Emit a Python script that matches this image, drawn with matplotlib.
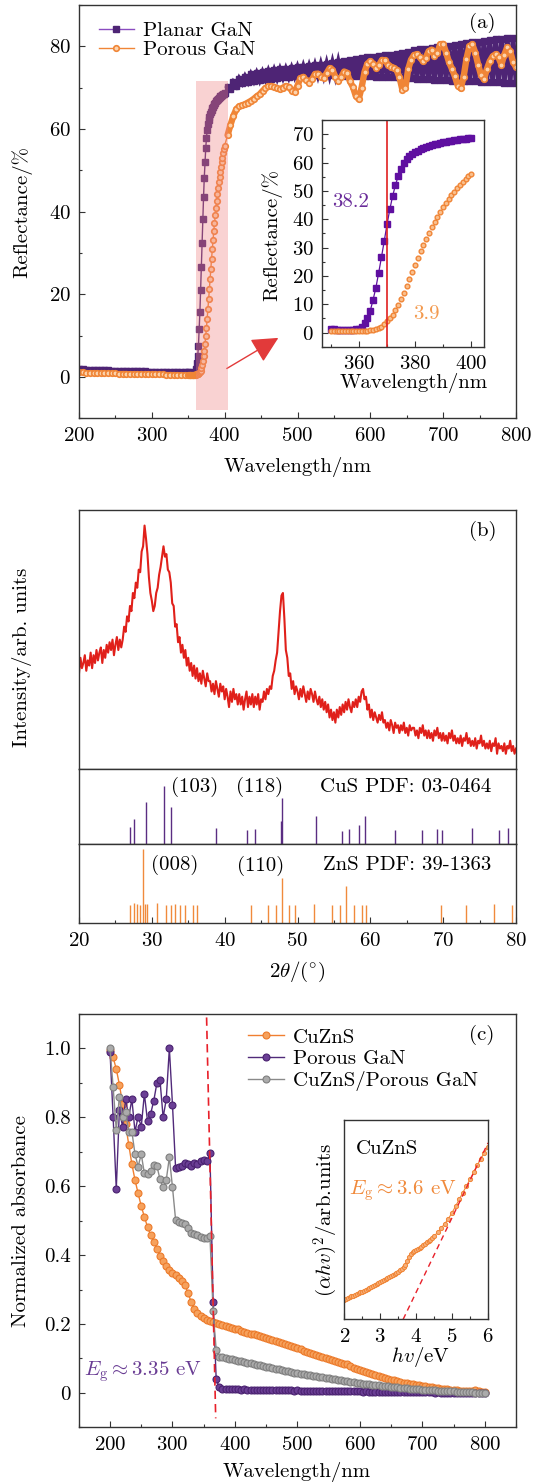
import numpy as np
import matplotlib.pyplot as plt
from matplotlib.ticker import MultipleLocator

plt.rcParams['font.family'] = ['cmr10', 'DejaVu Serif']
plt.rcParams['mathtext.fontset'] = 'cm'
plt.rcParams['axes.unicode_minus'] = False
plt.rcParams['axes.formatter.use_mathtext'] = True
plt.rcParams['font.size'] = 15

# ---------------- (a) reflectance ----------------
wl_low = np.arange(200, 350, 5)
planar_low = [1.9, 1.9, 1.8, 1.8, 1.8, 1.8, 1.7, 1.6, 1.6, 1.5,
              1.5, 1.5, 1.5, 1.5, 1.5, 1.5, 1.5, 1.5, 1.4, 1.3,
              1.3, 1.3, 1.3, 1.2, 1.2, 1.2, 1.2, 1.1, 1.1, 1.1]
porous_low = [1.1, 1.1, 1.0, 1.0, 1.0, 0.95, 0.9, 0.9, 0.9, 0.85,
              0.85, 0.8, 0.8, 0.8, 0.75, 0.75, 0.7, 0.7, 0.7, 0.65,
              0.65, 0.6, 0.6, 0.6, 0.55, 0.55, 0.55, 0.5, 0.5, 0.5]

wl_ins = np.arange(350, 401, 1)
planar_ins = [1.1, 1.1, 1.0, 1.0, 1.0, 1.0, 1.0, 1.0, 1.0, 1.1,
              1.2, 2.0, 3.3, 5.0, 7.6, 11.5, 15.7, 21.0, 26.5, 32.3,
              38.2, 43.5, 48.2, 52.0, 55.3, 57.8, 59.8, 61.2, 62.2, 63.0,
              63.6, 64.1, 64.6, 65.0, 65.4, 65.8, 66.1, 66.4, 66.7, 66.9,
              67.1, 67.3, 67.5, 67.7, 67.9, 68.0, 68.2, 68.3, 68.4, 68.5,
              68.6]
porous_ins = [0.5, 0.5, 0.5, 0.5, 0.5, 0.5, 0.5, 0.5, 0.5, 0.5,
              0.55, 0.6, 0.65, 0.7, 0.8, 0.9, 1.1, 1.5, 2.1, 2.9,
              3.9, 5.0, 6.3, 7.9, 9.8, 11.9, 14.1, 16.4, 18.8, 21.3,
              23.8, 26.2, 28.6, 30.9, 33.1, 35.2, 37.2, 39.1, 40.9, 42.6,
              44.2, 45.7, 47.1, 48.4, 49.7, 50.9, 52.0, 53.1, 54.1, 55.1,
              56.0]

wl_hi = np.arange(404, 801, 4)
planar_hi = [70.2, 69.6, 71.3, 70.4, 72.2, 71.1, 72.7, 71.4, 73.2, 71.7,
             73.5, 71.8, 73.7, 72.0, 74.0, 72.1, 74.2, 72.3, 74.4, 72.5,
             74.5, 72.6, 74.7, 72.8, 74.9, 72.8, 75.1, 72.9, 75.2, 73.0,
             75.4, 73.0, 75.6, 73.0, 75.8, 73.0, 76.0, 73.0, 76.2, 73.0,
             76.4, 72.9, 76.7, 72.9, 76.9, 72.8, 77.1, 72.8, 77.3, 72.8,
             77.5, 72.7, 77.7, 72.6, 77.9, 72.6, 78.0, 72.6, 78.2, 72.5,
             78.5, 72.4, 78.7, 72.3, 79.0, 72.1, 79.3, 72.1, 79.4, 72.0,
             79.7, 71.9, 79.9, 71.9, 80.0, 71.8, 80.2, 71.7, 80.4, 71.7,
             80.6, 71.7, 80.8, 71.5, 81.0, 71.5, 81.1, 71.4, 81.4, 71.4,
             81.5, 71.3, 81.7, 71.3, 81.8, 71.2, 82.0, 71.2, 82.1, 71.1]
porous_hi = [58.5, 61, 63.2, 64.8, 65.5, 65.7, 66, 66.4, 66.8, 67.3,
             67.9, 68.4, 69.2, 69.9, 70.3, 70.4, 70.2, 69.8, 69.6, 70,
             70.4, 70.2, 69.3, 69, 70.5, 72.3, 72.6, 71.8, 71.2, 72,
             73.3, 73.4, 72.7, 72.4, 73.5, 74.7, 74.3, 72.6, 71.6, 72.5,
             73.9, 73.6, 71.5, 70.2, 68, 67.2, 70, 73.8, 75.8, 76.4,
             75.8, 74.8, 75.5, 76.7, 76.6, 75.6, 75.1, 74.8, 74.3, 72.5,
             69.5, 69.8, 74.5, 76.8, 77.9, 78.1, 77.4, 76.4, 77.2, 78.8,
             79.2, 77.7, 78.5, 80.5, 80.6, 78.5, 76.2, 74.6, 72.8, 70.5,
             69.8, 72.5, 77, 80, 80.5, 78.5, 75.6, 73, 72, 74.5,
             76.4, 77.6, 78.1, 77.3, 75.6, 78, 79.8, 78.8, 76.2, 75]

wl_a = np.concatenate([wl_low, wl_ins, wl_hi])
planar_a = np.concatenate([planar_low, planar_ins, planar_hi])
porous_a = np.concatenate([porous_low, porous_ins, porous_hi])

# ---------------- (b) XRD ----------------
two_theta = np.round(np.arange(20, 80.01, 0.2), 1)
xrd = [37, 43, 39, 41, 44, 38, 42, 40, 45, 39,
       44, 41, 46, 42, 45, 47, 41, 46, 43, 48,
       45, 49, 46, 50, 44, 48, 51, 46, 50, 47,
       50, 55, 53, 59, 57, 63, 61, 68, 66, 72,
       70, 77, 76, 84, 86, 94, 89, 83, 74, 68,
       65, 61, 63, 68, 70, 75, 78, 82, 86, 82,
       83, 77, 76, 72, 64, 63, 55, 56, 49, 51,
       45, 48, 43, 46, 40, 43, 38, 41, 36, 40,
       35, 39, 34, 37, 33, 38, 35, 32, 37, 34,
       34, 30, 33, 29, 34, 31, 28, 33, 30, 32,
       27, 31, 28, 24, 30, 26, 31, 27, 29, 25,
       29, 25, 28, 23, 27, 30, 24, 28, 25, 29,
       24, 28, 25, 29, 23, 27, 26, 30, 27, 31,
       29, 32, 31, 36, 38, 42, 45, 53, 61, 67,
       68, 58, 46, 43, 36, 37, 31, 34, 29, 32,
       30, 27, 31, 28, 32, 29, 26, 30, 27, 31,
       29, 26, 30, 27, 25, 28, 24, 27, 23, 26,
       22, 25, 20, 23, 19, 22, 18, 23, 20, 24,
       21, 25, 22, 26, 23, 27, 24, 22, 26, 24,
       27, 24, 28, 26, 30, 31, 27, 28, 23, 25,
       20, 23, 19, 22, 20, 18, 21, 19, 22, 18,
       19, 16, 18, 15, 19, 17, 14, 18, 16, 17,
       14, 17, 15, 18, 14, 16, 13, 17, 15, 16,
       16, 13, 15, 12, 16, 14, 17, 13, 15, 12,
       15, 12, 14, 11, 15, 13, 16, 12, 14, 11,
       14, 11, 13, 10, 14, 12, 15, 11, 13, 10,
       12, 10, 13, 9, 12, 11, 14, 10, 12, 9,
       11, 9, 12, 8, 11, 10, 13, 9, 11, 8,
       10, 8, 11, 7, 10, 9, 12, 6, 10, 8,
       9, 7, 10, 6, 9, 8, 11, 7, 9, 6,
       8]
cus_pos = [27.0, 27.55, 29.2, 31.7, 32.7, 38.8, 43.0, 44.2, 47.7, 47.9, 52.6,
           56.1, 57.1, 58.5, 59.2, 63.4, 67.1, 69.2, 69.8, 73.9, 77.6, 78.9]
cus_int = [30, 44, 72, 100, 64, 27, 24, 26, 40, 80, 48,
           23, 26, 33, 48, 24, 24, 26, 24, 27, 24, 27]
zns_pos = [27.05, 27.5, 28.0, 28.4, 28.75, 29.06, 29.4, 30.67, 31.95, 32.6,
           33.2, 33.8, 34.5, 35.7, 36.15, 43.6, 46.0, 47.0, 47.87, 48.8,
           49.66, 52.2, 54.8, 55.8, 56.66, 57.76, 58.86, 59.4, 69.7, 73.2,
           77.0, 79.45]
zns_int = [25, 27, 26, 24, 100, 26, 26, 27, 24, 24,
           26, 24, 24, 24, 24, 24, 24, 24, 61, 24,
           24, 26, 24, 24, 50, 24, 24, 24, 24, 24,
           26, 24]

# ---------------- (c) absorbance ----------------
wl_c = np.arange(200, 801, 5)
cuzns = [0.995, 0.974, 0.94, 0.895, 0.84, 0.78, 0.72, 0.664, 0.618, 0.579,
         0.542, 0.511, 0.482, 0.458, 0.437, 0.418, 0.398, 0.382, 0.367, 0.356,
         0.348, 0.341, 0.333, 0.326, 0.312, 0.29, 0.263, 0.243, 0.232, 0.223,
         0.217, 0.212, 0.208, 0.205, 0.202, 0.2, 0.197, 0.194, 0.192, 0.189,
         0.186, 0.184, 0.181, 0.178, 0.175, 0.172, 0.17, 0.167, 0.164, 0.161,
         0.158, 0.155, 0.153, 0.15, 0.147, 0.144, 0.141, 0.138, 0.135, 0.132,
         0.129, 0.126, 0.122, 0.119, 0.116, 0.113, 0.11, 0.107, 0.104, 0.101,
         0.098, 0.095, 0.092, 0.089, 0.086, 0.085, 0.083, 0.077, 0.073, 0.07,
         0.067, 0.064, 0.06, 0.057, 0.054, 0.051, 0.048, 0.046, 0.043, 0.041,
         0.038, 0.036, 0.034, 0.032, 0.03, 0.028, 0.027, 0.025, 0.023, 0.022,
         0.02, 0.019, 0.017, 0.016, 0.014, 0.013, 0.012, 0.011, 0.01, 0.009,
         0.008, 0.007, 0.006, 0.006, 0.005, 0.005, 0.006, 0.007, 0.004, 0.003,
         0.002]
porous_gan = [0.99, 0.80, 0.592, 0.821, 0.773, 0.852, 0.802, 0.852, 0.758, 0.802,
              0.773, 0.868, 0.789, 0.81, 0.848, 0.899, 0.908, 0.80, 0.852, 1.0,
              0.836, 0.652, 0.655, 0.66, 0.668, 0.665, 0.66, 0.668, 0.664, 0.672,
              0.675, 0.672, 0.695, 0.264, 0.039, 0.016, 0.012, 0.011, 0.011, 0.01,
              0.01, 0.01, 0.009, 0.01, 0.009, 0.009, 0.009, 0.008, 0.009, 0.008,
              0.008, 0.008, 0.008, 0.007, 0.008, 0.007, 0.007, 0.007, 0.007, 0.006,
              0.007, 0.006, 0.006, 0.006, 0.006, 0.006, 0.005, 0.006, 0.005, 0.005,
              0.005, 0.005, 0.005, 0.004, 0.005, 0.004, 0.004, 0.004, 0.004, 0.004,
              0.004, 0.003, 0.004, 0.003, 0.003, 0.003, 0.003, 0.003, 0.003, 0.003,
              0.003, 0.002, 0.003, 0.002, 0.002, 0.002, 0.002, 0.002, 0.002, 0.002,
              0.002, 0.002, 0.002, 0.002, 0.001, 0.002, 0.001, 0.001, 0.001, 0.001,
              0.001, 0.001, 0.001, 0.001, 0.001, 0.001, 0.001, 0.001, 0.001, 0.001,
              0.001]
mixed = [1.0, 0.887, 0.763, 0.86, 0.802, 0.816, 0.758, 0.758, 0.693, 0.657,
         0.693, 0.637, 0.635, 0.645, 0.662, 0.659, 0.62, 0.597, 0.618, 0.684,
         0.597, 0.502, 0.497, 0.494, 0.49, 0.478, 0.465, 0.461, 0.458, 0.453,
         0.451, 0.449, 0.455, 0.237, 0.124, 0.105, 0.103, 0.101, 0.099, 0.097,
         0.095, 0.093, 0.092, 0.09, 0.088, 0.086, 0.084, 0.082, 0.08, 0.078,
         0.076, 0.074, 0.072, 0.07, 0.068, 0.066, 0.064, 0.063, 0.061, 0.059,
         0.058, 0.056, 0.054, 0.053, 0.051, 0.05, 0.048, 0.046, 0.045, 0.043,
         0.042, 0.04, 0.039, 0.038, 0.037, 0.035, 0.034, 0.032, 0.031, 0.03,
         0.029, 0.027, 0.026, 0.025, 0.024, 0.023, 0.022, 0.021, 0.02, 0.019,
         0.018, 0.017, 0.016, 0.015, 0.014, 0.013, 0.012, 0.011, 0.011, 0.01,
         0.009, 0.009, 0.008, 0.007, 0.007, 0.006, 0.006, 0.005, 0.005, 0.004,
         0.004, 0.003, 0.003, 0.003, 0.002, 0.002, 0.002, 0.001, 0.001, 0.001,
         0.0]

energy = np.round(np.concatenate([np.arange(2.0, 4.5001, 0.05), np.arange(4.6, 6.0001, 0.1)]), 2)
tauc = [0.097, 0.101, 0.106, 0.11, 0.115, 0.119, 0.123, 0.127, 0.131, 0.135,
        0.139, 0.144, 0.149, 0.154, 0.159, 0.164, 0.169, 0.174, 0.179, 0.184,
        0.189, 0.194, 0.199, 0.204, 0.209, 0.214, 0.219, 0.224, 0.229, 0.234,
        0.239, 0.245, 0.252, 0.26, 0.272, 0.292, 0.312, 0.327, 0.336, 0.343,
        0.349, 0.354, 0.359, 0.365, 0.372, 0.379, 0.386, 0.393, 0.4, 0.408,
        0.417,
        0.436, 0.458, 0.48, 0.505, 0.535, 0.568, 0.602, 0.636, 0.668, 0.703,
        0.737, 0.772, 0.806, 0.836, 0.866]
tangent_e = [3.64, 6.0]
tangent_y = [0.0, 0.885]

# ---------------- layout ----------------
W, H = 537, 1484


def box(l, t, r, b):
    return [l / W, 1 - b / H, (r - l) / W, (b - t) / H]


def style(ax):
    for s in ax.spines.values():
        s.set_linewidth(1.0)
        s.set_color('#333333')
    ax.tick_params(which='both', direction='in', top=False, right=False,
                   labelsize=15, width=0.8, color='#333333', pad=6)
    ax.tick_params(which='major', length=4)
    ax.tick_params(which='minor', length=2.5)


def ftext(x, y, s, **kw):
    fig.text(x / W, 1 - y / H, s, ha='center', va='center', fontsize=15, **kw)


fig = plt.figure(figsize=(W / 100, H / 100), dpi=100)

pur_a = '#4e2475'
pur_i = '#5f0fa0'
ora = '#f08536'

# (a) main
ax = fig.add_axes(box(79, 5, 516, 418.3))
ax.plot(wl_a, planar_a, '-s', color=pur_a, lw=1.0, ms=4.4, mec=pur_a, mfc=pur_a,
        label='Planar GaN')
# the fast interference fringes of the planar film fill a solid band
ax.plot(wl_hi, planar_hi, '-', color=pur_a, lw=3.4, solid_joinstyle='miter')
# dense porous points merge into a thick orange trace
ax.plot(wl_low, porous_low, '-', color=ora, lw=4.0, solid_capstyle='round')
ax.plot(wl_hi, porous_hi, '-', color=ora, lw=4.6, solid_capstyle='round')
ax.plot(wl_a, porous_a, '-o', color=ora, lw=1.0, ms=4.0, mec=ora, mfc='#fcd3ad',
        mew=1.2, label='Porous GaN')
ax.fill_between([360, 404], -8, 71.5, color='#f08080', alpha=0.35, lw=0, zorder=5)
ax.annotate('', xy=(477, 9.8), xytext=(399.6, 1.7),
            arrowprops=dict(arrowstyle='-|>,head_length=0.9,head_width=0.45',
                            color='#e23a3a', lw=1.0, mutation_scale=18))
ax.set_xlim(200, 800)
ax.set_ylim(-10, 90)
ax.xaxis.set_major_locator(MultipleLocator(100))
ax.xaxis.set_minor_locator(MultipleLocator(50))
ax.yaxis.set_major_locator(MultipleLocator(20))
ax.yaxis.set_minor_locator(MultipleLocator(10))
style(ax)
leg = ax.legend(loc='upper left', bbox_to_anchor=(0.0449, 0.9606), frameon=False,
                borderpad=0, borderaxespad=0, handlelength=1.71, handletextpad=0.43,
                labelspacing=0.05, fontsize=15)
leg.get_lines()[0].set_color('#8a4cc0')
ax.text(0.922, 0.957, '(a)', transform=ax.transAxes, ha='center', va='center', fontsize=15)
ftext(297.5, 467, 'Wavelength/nm')
ftext(22, 211.7, 'Reflectance/%', rotation=90)

# (a) inset
axi = fig.add_axes(box(322.3, 120, 484, 346.7))
axi.plot(wl_ins, planar_ins, '-s', color=pur_i, lw=0.9, ms=3.9)
axi.plot(wl_ins, porous_ins, 'o', color=ora, ms=3.4, mfc='#f9c08e', mew=1.0)
axi.axvline(370, color='#e02020', lw=1.2)
axi.set_xlim(346.9, 404.6)
axi.set_ylim(-5, 75)
axi.xaxis.set_major_locator(MultipleLocator(20))
axi.xaxis.set_minor_locator(MultipleLocator(10))
axi.yaxis.set_major_locator(MultipleLocator(10))
axi.yaxis.set_minor_locator(MultipleLocator(5))
style(axi)
axi.text(350.4, 46, '38.2', color='#6a2c9a', ha='left', va='center', fontsize=15)
axi.text(379.3, 6.7, '3.9', color='#f39a4f', ha='left', va='center', fontsize=15)
ftext(414, 383.3, 'Wavelength/nm')
ftext(271.7, 235, 'Reflectance/%', rotation=90)

# (b) XRD + reference patterns
axb = fig.add_axes(box(79, 510, 516, 769.3))
axb.plot(two_theta, xrd, color='#e0201a', lw=1.5)
axb.set_xlim(20, 80)
axb.set_ylim(0, 100)
axb.set_xticks([])
axb.set_yticks([])
style(axb)
axb.text(0.923, 0.92, '(b)', transform=axb.transAxes, ha='center', va='center', fontsize=15)

axcus = fig.add_axes(box(79, 769.3, 516, 844))
axcus.vlines(cus_pos, 0, cus_int, color='#5a2d82', lw=1.0)
axcus.set_xlim(20, 80)
axcus.set_ylim(0, 129)
axcus.set_xticks([])
axcus.set_yticks([])
style(axcus)
tr = axcus.get_xaxis_transform()
axcus.text(32.6, 0.766, '(103)', transform=tr, ha='left', va='center', fontsize=15)
axcus.text(44.8, 0.766, '(118)', transform=tr, ha='center', va='center', fontsize=15)
axcus.text(76.6, 0.766, 'CuS PDF: 03-0464', transform=tr, ha='right', va='center', fontsize=15)

axzns = fig.add_axes(box(79, 844, 516, 923.3))
axzns.vlines(zns_pos, 0, zns_int, color='#f08a3c', lw=1.0)
axzns.set_xlim(20, 80)
axzns.set_ylim(0, 106.3)
axzns.set_yticks([])
axzns.xaxis.set_major_locator(MultipleLocator(10))
axzns.xaxis.set_minor_locator(MultipleLocator(5))
style(axzns)
tr = axzns.get_xaxis_transform()
axzns.text(29.85, 0.74, '(008)', transform=tr, ha='left', va='center', fontsize=15)
axzns.text(41.65, 0.72, '(110)', transform=tr, ha='left', va='center', fontsize=15)
axzns.text(76.6, 0.74, 'ZnS PDF: 39-1363', transform=tr, ha='right', va='center', fontsize=15)
ftext(297, 971.7, r'$2\theta/(^{\circ})$')
ftext(22, 657, 'Intensity/arb. units', rotation=90)

# (c) absorbance
axc = fig.add_axes(box(78.8, 1014, 516, 1427.3))
axc.plot(wl_c, cuzns, '-o', color='#f07f30', lw=1.0, ms=5.0, mfc='#f6a15c', mec='#ec7a2a',
         mew=0.8, label='CuZnS')
axc.plot(wl_c, porous_gan, '-o', color='#512a7a', lw=1.0, ms=5.0, mfc='#6b3f95', mec='#4a2270',
         mew=0.8, label='Porous GaN')
axc.plot(wl_c, mixed, '-o', color='#8a8a8a', lw=1.0, ms=5.0, mfc='#ababab', mec='#7f7f7f',
         mew=0.8, label='CuZnS/Porous GaN')
axc.plot([354.6, 369.2], [1.09, -0.074], '--', color='#e8202a', lw=1.2, dashes=(5, 3))
axc.set_xlim(150, 850)
axc.set_ylim(-0.1, 1.1)
axc.xaxis.set_major_locator(MultipleLocator(100))
axc.xaxis.set_minor_locator(MultipleLocator(50))
axc.set_yticks([0, 0.2, 0.4, 0.6, 0.8, 1.0])
axc.set_yticklabels(['0', '0.2', '0.4', '0.6', '0.8', '1.0'])
axc.yaxis.set_minor_locator(MultipleLocator(0.1))
style(axc)
axc.legend(loc='upper left', bbox_to_anchor=(0.387, 0.966), frameon=False,
           borderpad=0, borderaxespad=0, handlelength=1.75, handletextpad=0.4,
           labelspacing=0.15, fontsize=15)
axc.text(0.921, 0.949, '(c)', transform=axc.transAxes, ha='center', va='center', fontsize=15)
axc.text(158, 0.061, r'$E_{\rm g}\approx 3.35$ eV', color='#6a3d94', ha='left', va='center',
         fontsize=15)
ftext(297, 1472, 'Wavelength/nm')
ftext(21, 1220.7, 'Normalized absorbance', rotation=90)

# (c) inset
axci = fig.add_axes(box(344.2, 1120, 488, 1319.3))
axci.plot(energy, tauc, '-o', color='#f08536', lw=0.8, ms=3.0, mfc='#f7b07a', mew=0.7)
axci.plot(tangent_e, tangent_y, '--', color='#e8202a', lw=1.0, dashes=(4, 3))
axci.set_xlim(2, 6)
axci.set_ylim(0, 1)
axci.set_yticks([])
axci.xaxis.set_major_locator(MultipleLocator(1))
axci.xaxis.set_minor_locator(MultipleLocator(0.5))
style(axci)
axci.text(2.33, 0.853, 'CuZnS', ha='left', va='center', fontsize=15)
axci.text(2.12, 0.645, r'$E_{\rm g}\approx 3.6$ eV', color='#f08a3c', ha='left', va='center',
          fontsize=15)
ftext(420.6, 1356.7, r'$hv$/eV')
ftext(325.5, 1220, r'$(\alpha hv)^2$/arb.units', rotation=90)

fig.savefig('out.png', dpi=100)
